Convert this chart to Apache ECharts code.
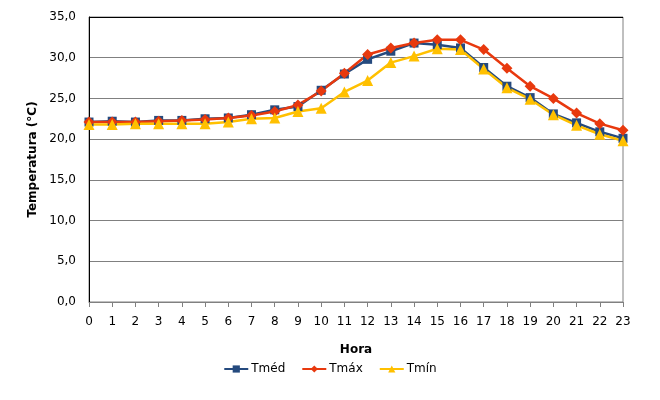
<!DOCTYPE html>
<html>
<head>
<meta charset="utf-8">
<script src="https://cdn.jsdelivr.net/npm/echarts@6/dist/echarts.min.js"></script>
<style>
  html, body { margin: 0; padding: 0; background: #fff; }
  #chart { width: 660px; height: 400px; }
</style>
</head>
<body>
<div id="chart"></div>
<script>
// horas do dia
const horas = ['0','1','2','3','4','5','6','7','8','9','10','11','12','13','14','15','16','17','18','19','20','21','22','23'];

// temperaturas (°C)
const tMed = [22.1, 22.2, 22.1, 22.3, 22.3, 22.5, 22.6, 23.0, 23.6, 24.0, 26.0, 28.0, 29.8, 30.8, 31.8, 31.6, 31.2, 28.8, 26.5, 25.1, 23.1, 22.0, 20.9, 20.1];
const tMax = [22.1, 22.1, 22.1, 22.2, 22.3, 22.4, 22.6, 22.9, 23.4, 24.2, 25.9, 28.1, 30.4, 31.2, 31.8, 32.2, 32.2, 31.0, 28.7, 26.5, 25.0, 23.2, 21.9, 21.1];
const tMin = [21.8, 21.8, 21.9, 21.9, 21.9, 21.9, 22.1, 22.5, 22.6, 23.4, 23.8, 25.8, 27.2, 29.4, 30.2, 31.1, 31.0, 28.6, 26.3, 24.9, 23.0, 21.7, 20.6, 19.8];

const FONT = 'DejaVu Sans';
const chart = echarts.init(document.getElementById('chart'));

function serie(name, data, color, symbol, size) {
  return {
    name, type: 'line', data, symbol, symbolSize: size,
    lineStyle: { color, width: 2.5 },
    itemStyle: { color },
    animation: false
  };
}

chart.setOption({
  backgroundColor: '#fff',
  textStyle: { fontFamily: FONT },
  grid: { left: 89, right: 37, top: 17, bottom: 98, show: true, borderColor: '#808080', borderWidth: 1 },
  legend: {
    bottom: 20, left: 'center',
    itemWidth: 24, itemHeight: 9, itemGap: 16,
    textStyle: { fontFamily: FONT, fontSize: 12, color: '#000', padding: [0, 0, 0, -2] },
    data: ['Tméd', 'Tmáx', 'Tmín']
  },
  xAxis: {
    type: 'category', data: horas, boundaryGap: false,
    name: 'Hora', nameLocation: 'middle', nameGap: 42,
    nameTextStyle: { fontFamily: FONT, fontSize: 12, fontWeight: 'bold', color: '#000' },
    axisLine: { lineStyle: { color: '#808080', width: 1 } },
    axisTick: { show: true, length: 5, lineStyle: { color: '#808080' } },
    axisLabel: { fontFamily: FONT, fontSize: 12, color: '#000', margin: 14 },
    splitLine: { show: false }
  },
  yAxis: {
    type: 'value', min: 0, max: 35, interval: 5,
    name: 'Temperatura (°C)', nameLocation: 'middle', nameGap: 47,
    nameTextStyle: { fontFamily: FONT, fontSize: 12, fontWeight: 'bold', color: '#000' },
    axisLine: { show: true, lineStyle: { color: '#000', width: 1 } },
    axisTick: { show: false },
    axisLabel: {
      fontFamily: FONT, fontSize: 12, color: '#000', margin: 13,
      formatter: v => v.toFixed(1).replace('.', ',')
    },
    splitLine: {
      lineStyle: { color: ['#808080','#808080','#808080','#808080','#808080','#808080','#808080','#000'], width: 1 }
    }
  },
  series: [
    serie('Tméd', tMed, '#254A7E', 'rect', 9),
    serie('Tmáx', tMax, '#E8390E', 'diamond', 11),
    serie('Tmín', tMin, '#FFC000', 'triangle', 11)
  ]
});
</script>
</body>
</html>
